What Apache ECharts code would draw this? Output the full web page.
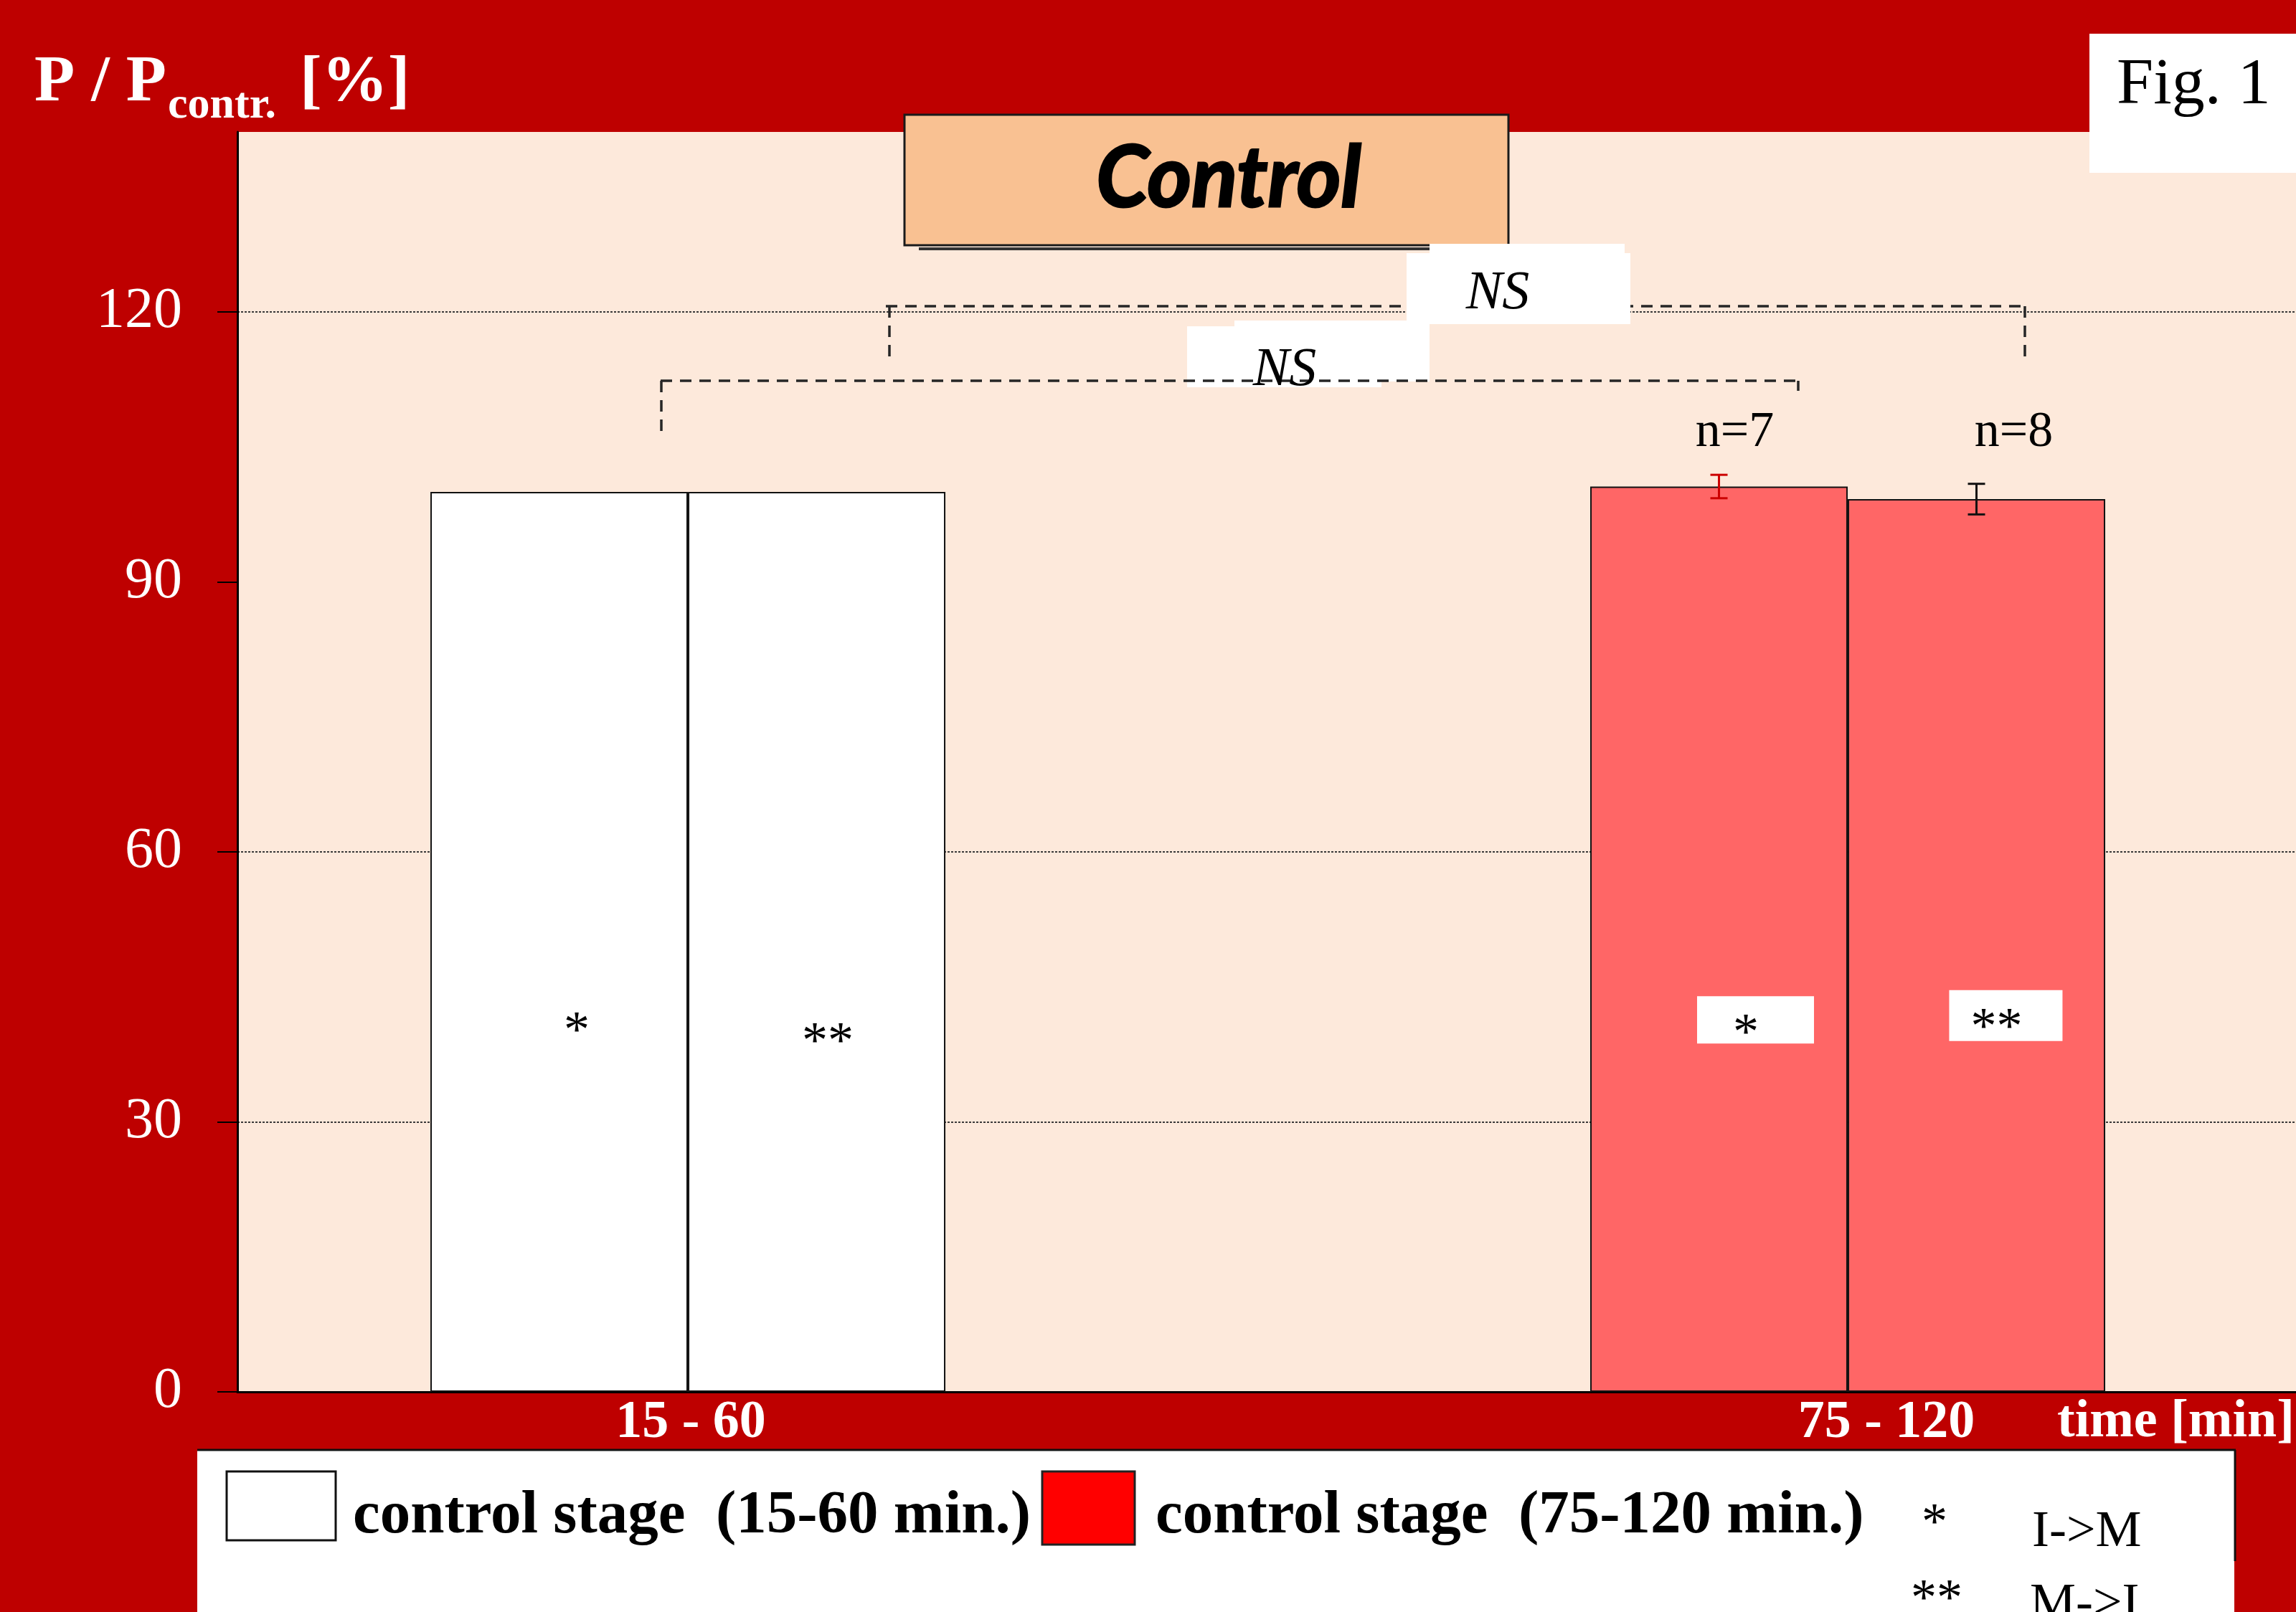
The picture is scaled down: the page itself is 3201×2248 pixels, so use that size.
<!DOCTYPE html>
<html>
<head>
<meta charset="utf-8">
<script src="https://cdn.jsdelivr.net/npm/echarts@6/dist/echarts.min.js"></script>
<style>
html,body{margin:0;padding:0;background:#BE0000;}
#chart{width:3201px;height:2248px;}
</style>
</head>
<body>
<div id="chart"></div>
<script>
// ---------- data ----------
const categories = ['15 - 60', '75 - 120'];
const valuesIM = [100, 100.6];   // *  I->M
const valuesMI = [100, 99.2];    // ** M->I
const errIM = [0, 1.3];
const errMI = [0, 1.7];
const nIM = [0, 7];
const nMI = [0, 8];
const yTicks = [0, 30, 60, 90, 120];
const groupFills = ['#FFFFFF', '#FF6666'];
const labelIM = '*';
const labelMI = '**';

// ---------- style constants ----------
const SERIF = '"Liberation Serif", "Times New Roman", serif';
const BAR_W = 359;
const RED_BG = '#BE0000';

const chart = echarts.init(document.getElementById('chart'), null, {renderer: 'canvas'});

function plainLabel(text, pos) {
  return {
    show: true, formatter: text, position: pos, align: 'center', verticalAlign: 'middle',
    fontFamily: SERIF, fontSize: 72, color: '#000', lineHeight: 30
  };
}
function boxedLabel(text, pos, pad) {
  return {
    show: true, formatter: text, position: pos, align: 'center', verticalAlign: 'top',
    fontFamily: SERIF, fontSize: 72, color: '#000', lineHeight: 24,
    backgroundColor: '#FFFFFF', padding: pad
  };
}

const dataIM = valuesIM.map((v, i) => ({
  value: [i + 1, v],
  itemStyle: {color: groupFills[i]},
  label: i === 0 ? plainLabel(labelIM, ['56.8%', '60.1%'])
                 : boxedLabel(labelIM, ['64.2%', '56.3%'], [42, 77, 0, 50])
}));
const dataMI = valuesMI.map((v, i) => ({
  value: [i + 1, v],
  itemStyle: {color: groupFills[i]},
  label: i === 0 ? plainLabel(labelMI, ['54.3%', '61.3%'])
                 : boxedLabel(labelMI, ['61.4%', '55.0%'], [42, 56, 5, 30])
}));

function errSeries(values, errs, ns, side, color, nOff) {
  return {
    type: 'custom', z: 5, silent: true,
    data: values.map((v, i) => [i + 1, v, errs[i], ns[i]]),
    renderItem(params, api) {
      const x = api.value(0), m = api.value(1), e = api.value(2), n = api.value(3);
      const c = api.coord([x, m]);
      const px = c[0] + side * BAR_W / 2;
      const children = [];
      if (e > 0) {
        const top = api.coord([x, m + e])[1], bot = api.coord([x, m - e])[1];
        const st = {stroke: color, lineWidth: 3};
        children.push({type: 'line', shape: {x1: px, y1: top, x2: px, y2: bot}, style: st});
        children.push({type: 'line', shape: {x1: px - 12, y1: top, x2: px + 12, y2: top}, style: st});
        children.push({type: 'line', shape: {x1: px - 12, y1: bot, x2: px + 12, y2: bot}, style: st});
      }
      if (n > 0) {
        children.push({
          type: 'text',
          style: {
            text: 'n=' + n, x: px + nOff, y: api.coord([x, 106.6])[1],
            align: 'center', verticalAlign: 'middle',
            font: '70px ' + SERIF, fill: '#000'
          }
        });
      }
      return {type: 'group', children};
    }
  };
}

// ---------- annotation helpers ----------
const DASH = {stroke: '#262626', lineWidth: 3.5, lineDash: [16, 11]};
function dline(x1, y1, x2, y2) {
  return {type: 'line', z: 100, shape: {x1, y1, x2, y2}, style: Object.assign({}, DASH)};
}
function rect(x, y, w, h, fill, stroke, lw, z) {
  return {type: 'rect', z: z || 100, shape: {x, y, width: w, height: h},
    style: {fill: fill, stroke: stroke || null, lineWidth: lw || 0}};
}
function txt(text, x, y, font, fill, align, z) {
  return {type: 'text', z: z || 110, style: {text, x, y, font, fill: fill || '#000',
    align: align || 'left', verticalAlign: 'middle'}};
}

const graphics = [
  // title
  txt('P / P', 48, 116, 'bold 92px ' + SERIF, '#FFFFFF'),
  txt('contr.', 234, 148, 'bold 62px ' + SERIF, '#FFFFFF'),
  txt('[%]', 418, 116, 'bold 92px ' + SERIF, '#FFFFFF'),
  // Fig. 1 box
  rect(2913, 47, 300, 194, '#FFFFFF'),
  txt('Fig. 1', 2951, 120, '92px ' + SERIF, '#000'),
  // Control box with shadow line
  {type: 'line', z: 99, shape: {x1: 1281, y1: 347, x2: 1993, y2: 347}, style: {stroke: '#333', lineWidth: 4}},
  rect(1261, 160, 842, 182, '#F9C192', '#1a1a1a', 3),
  {type: 'text', z: 110, style: {text: 'Control', x: 1713, y: 250,
    font: 'italic bold 118px Lato, "Open Sans", sans-serif', fill: '#000',
    stroke: '#000', lineWidth: 3, align: 'center', verticalAlign: 'middle'}},
  // upper bracket (below NS box)
  dline(1235, 427, 2828, 427),
  dline(1240, 427, 1240, 498),
  dline(2823, 427, 2823, 500),
  // upper NS box
  rect(1961, 353, 312, 99, '#FFFFFF', null, 0, 101),
  rect(1993, 340, 272, 14, '#FFFFFF', null, 0, 101),
  txt('NS', 2088, 410, 'italic 76px ' + SERIF, '#000', 'center', 111),
  // lower NS box (under lower bracket)
  rect(1655, 455, 271, 85, '#FFFFFF', null, 0, 98),
  rect(1721, 447, 272, 85, '#FFFFFF', null, 0, 98),
  // lower bracket
  dline(921, 531, 2507, 531),
  dline(922, 531, 922, 603),
  dline(2507, 531, 2507, 545),
  txt('NS', 1791, 517, 'italic 76px ' + SERIF, '#000', 'center', 111),
  // x axis unit
  txt('time [min]', 2868, 1984, 'bold 74px ' + SERIF, '#FFFFFF'),
  // legend box
  rect(275, 2022, 2840, 240, '#FFFFFF'),
  {type: 'line', z: 101, shape: {x1: 275, y1: 2022, x2: 3117, y2: 2022}, style: {stroke: '#111', lineWidth: 3}},
  {type: 'line', z: 101, shape: {x1: 3116, y1: 2022, x2: 3116, y2: 2177}, style: {stroke: '#111', lineWidth: 3}},
  rect(316, 2052, 152, 96, '#FFFFFF', '#111', 3, 101),
  txt('control stage  (15-60 min.)', 492, 2115, 'bold 85px ' + SERIF, '#000'),
  rect(1453, 2052, 129, 102, '#FF0000', '#222', 3, 101),
  txt('control stage  (75-120 min.)', 1611, 2115, 'bold 85px ' + SERIF, '#000'),
  txt('*', 2697, 2126, '72px ' + SERIF, '#000', 'center'),
  txt('I->M', 2833, 2137, '72px ' + SERIF, '#000'),
  txt('**', 2700, 2232, '72px ' + SERIF, '#000', 'center'),
  txt('M->I', 2830, 2238, '72px ' + SERIF, '#000')
];

const option = {
  backgroundColor: RED_BG,
  animation: false,
  grid: {left: 331, top: 184, right: 0, bottom: 307, show: true,
    backgroundColor: '#FDE9DB', borderWidth: 0},
  xAxis: {
    type: 'value', min: 0.6116, max: 2.3865,
    axisLine: {show: true, onZero: false, lineStyle: {color: '#000', width: 3}},
    axisTick: {show: false},
    splitLine: {show: false},
    axisLabel: {
      customValues: [1, 2], margin: 7,
      formatter: (v) => {
        const i = Math.round(v) - 1;
        return i === 0 ? '{a|' + categories[0] + '}' : '{b|' + categories[1] + '}';
      },
      rich: {
        a: {color: '#FFFFFF', fontFamily: SERIF, fontWeight: 'bold', fontSize: 74, padding: [0, 0, 0, 8]},
        b: {color: '#FFFFFF', fontFamily: SERIF, fontWeight: 'bold', fontSize: 74, padding: [0, 0, 0, 108]}
      }
    }
  },
  yAxis: {
    type: 'value', min: 0, max: 140, interval: 30,
    axisLine: {show: true, lineStyle: {color: '#000', width: 3}},
    axisTick: {show: true, customValues: yTicks, length: 28, inside: false, lineStyle: {color: '#000', width: 2}},
    axisLabel: {customValues: yTicks, color: '#FFFFFF', fontFamily: SERIF, fontSize: 80, margin: 77},
    splitLine: {show: true, showMinLine: false,
      lineStyle: {color: ['#3a3a3a', '#3a3a3a', 'rgba(0,0,0,0)', '#3a3a3a', 'rgba(0,0,0,0)'], width: 2, type: [3, 2]}}
  },
  series: [
    {name: 'I->M', type: 'bar', barWidth: BAR_W, barGap: '0%', z: 3,
      itemStyle: {borderColor: '#111', borderWidth: 2}, data: dataIM},
    {name: 'M->I', type: 'bar', barWidth: BAR_W, barGap: '0%', z: 3,
      itemStyle: {borderColor: '#111', borderWidth: 2}, data: dataMI},
    errSeries(valuesIM, errIM, nIM, -1, '#CC0000', 22),
    errSeries(valuesMI, errMI, nMI, 1, '#111', 52)
  ],
  graphic: {elements: graphics}
};
chart.setOption(option);
</script>
</body>
</html>
